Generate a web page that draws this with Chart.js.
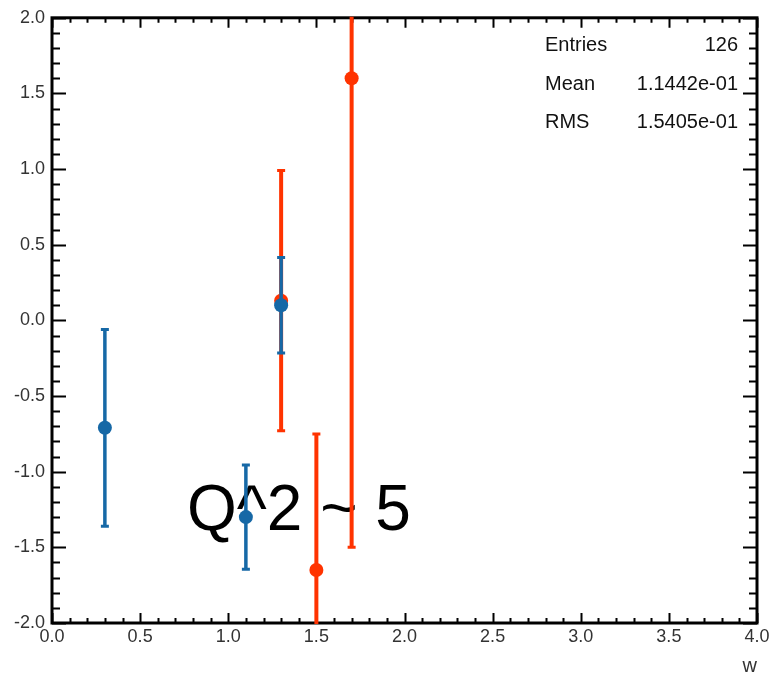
<!DOCTYPE html>
<html lang="en">
<head>
    <meta charset="UTF-8">
    <title>Q^2 ~ 5</title>
    <style>
        body {
            margin: 0;
            padding: 0;
            background: #fff;
        }
        canvas {
            display: block;
        }
    </style>
</head>
<body>
<canvas id="wChart" width="773" height="678"></canvas>
<script src="https://cdn.jsdelivr.net/npm/chart.js"></script>
<script>
    // data
    const blueX = [0.3, 1.1, 1.3];
    const blueY = [-0.71, -1.30, 0.10];
    const blueErr = [0.65, 0.345, 0.315];

    const redX = [1.3, 1.5, 1.7];
    const redY = [0.13, -1.65, 1.60];
    const redErr = [0.86, 0.90, 3.10];

    const xMajor = [0.0, 0.5, 1.0, 1.5, 2.0, 2.5, 3.0, 3.5, 4.0];
    const yMajor = [-2.0, -1.5, -1.0, -0.5, 0.0, 0.5, 1.0, 1.5, 2.0];

    const statLabels = ['Entries', 'Mean', 'RMS'];
    const statValues = ['126', '1.1442e-01', '1.5405e-01'];

    const BLUE = '#1668a6';
    const RED = '#ff3300';
    const FONT = '"Liberation Sans", Arial, Helvetica, sans-serif';

    function points(xs, ys) {
        return xs.map((x, i) => ({x: x, y: ys[i]}));
    }

    // frame, inward ticks, texts
    const framePlugin = {
        id: 'frame',
        beforeDatasetsDraw(chart) {
            const ctx = chart.ctx;
            const a = chart.chartArea;
            const xs = chart.scales.x;
            const ys = chart.scales.y;
            ctx.save();
            ctx.strokeStyle = '#000';
            ctx.lineWidth = 2;
            // x ticks, bottom and top
            for (let i = 0; i <= 40; i++) {
                const px = Math.round(xs.getPixelForValue(i / 10)) + 0.5;
                const len = i % 5 === 0 ? 10 : 5;
                ctx.beginPath();
                ctx.moveTo(px, a.bottom);
                ctx.lineTo(px, a.bottom - len);
                ctx.moveTo(px, a.top);
                ctx.lineTo(px, a.top + len);
                ctx.stroke();
            }
            // y ticks, left and right
            for (let i = -20; i <= 20; i++) {
                const py = Math.round(ys.getPixelForValue(i / 10)) + 0.5;
                const len = i % 5 === 0 ? 14 : 8;
                ctx.beginPath();
                ctx.moveTo(a.left, py);
                ctx.lineTo(a.left + len, py);
                ctx.moveTo(a.right, py);
                ctx.lineTo(a.right - len, py);
                ctx.stroke();
            }
            ctx.lineWidth = 3;
            ctx.strokeRect(a.left, a.top, a.right - a.left, a.bottom - a.top);

            // statistics
            ctx.fillStyle = '#111';
            ctx.font = '20px ' + FONT;
            ctx.textBaseline = 'alphabetic';
            statLabels.forEach((s, i) => {
                const y = 51 + i * 38.5;
                ctx.textAlign = 'left';
                ctx.fillText(s, 545, y);
                ctx.textAlign = 'right';
                ctx.fillText(statValues[i], 738, y);
            });

            ctx.fillStyle = '#000';
            ctx.font = '64px ' + FONT;
            ctx.textAlign = 'left';
            ctx.fillText('Q^2 ~ 5', 187, 530);
            ctx.restore();
        },
        beforeDatasetDraw(chart, args) {
            // error bars under each dataset's markers
            const ds = chart.data.datasets[args.index];
            const ctx = chart.ctx;
            const a = chart.chartArea;
            const xs = chart.scales.x;
            const ys = chart.scales.y;
            ctx.save();
            ctx.beginPath();
            ctx.rect(a.left - 1, a.top - 1, a.right - a.left + 2, a.bottom - a.top + 2);
            ctx.clip();
            ctx.strokeStyle = ds.borderColor;
            ds.data.forEach((p, i) => {
                const px = xs.getPixelForValue(p.x);
                const top = ys.getPixelForValue(p.y + ds.err[i]);
                const bot = ys.getPixelForValue(p.y - ds.err[i]);
                ctx.lineWidth = ds.errWidth;
                ctx.beginPath();
                ctx.moveTo(px, top);
                ctx.lineTo(px, bot);
                ctx.stroke();
                ctx.lineWidth = 3;
                ctx.beginPath();
                ctx.moveTo(px - 4, top);
                ctx.lineTo(px + 4, top);
                ctx.moveTo(px - 4, bot);
                ctx.lineTo(px + 4, bot);
                ctx.stroke();
            });
            ctx.restore();
        }
    };

    const ctx = document.getElementById('wChart').getContext('2d');
    new Chart(ctx, {
        type: 'scatter',
        data: {
            datasets: [
                {
                    label: 'blue',
                    data: points(blueX, blueY),
                    err: blueErr,
                    errWidth: 3.5,
                    backgroundColor: BLUE,
                    borderColor: BLUE,
                    pointRadius: 7,
                    pointHoverRadius: 7,
                    borderWidth: 0
                },
                {
                    label: 'red',
                    data: points(redX, redY),
                    err: redErr,
                    errWidth: 4,
                    backgroundColor: RED,
                    borderColor: RED,
                    pointRadius: 7,
                    pointHoverRadius: 7,
                    borderWidth: 0
                }
            ]
        },
        options: {
            responsive: false,
            animation: false,
            events: [],
            layout: {
                padding: {left: 0, top: 16, right: 16, bottom: 0}
            },
            plugins: {
                legend: {display: false},
                tooltip: {enabled: false}
            },
            scales: {
                x: {
                    type: 'linear',
                    min: 0,
                    max: 4,
                    afterBuildTicks: (s) => { s.ticks = xMajor.map(v => ({value: v})); },
                    afterFit: (s) => { s.height = 55; },
                    grid: {display: false, drawTicks: false, tickLength: 0},
                    border: {display: false},
                    ticks: {
                        autoSkip: false,
                        maxRotation: 0,
                        padding: 3,
                        color: '#333',
                        font: {family: FONT, size: 18},
                        callback: (v) => Number(v).toFixed(1)
                    },
                    title: {
                        display: true,
                        text: 'w',
                        align: 'end',
                        color: '#333',
                        font: {family: FONT, size: 20},
                        padding: {top: 0, bottom: 0}
                    }
                },
                y: {
                    type: 'linear',
                    min: -2,
                    max: 2,
                    afterBuildTicks: (s) => { s.ticks = yMajor.map(v => ({value: v})); },
                    afterFit: (s) => { s.width = 52; },
                    grid: {display: false, drawTicks: false, tickLength: 0},
                    border: {display: false},
                    ticks: {
                        autoSkip: false,
                        padding: 7,
                        color: '#333',
                        font: {family: FONT, size: 18},
                        callback: (v) => Number(v).toFixed(1)
                    }
                }
            }
        },
        plugins: [framePlugin]
    });
</script>
</body>
</html>
